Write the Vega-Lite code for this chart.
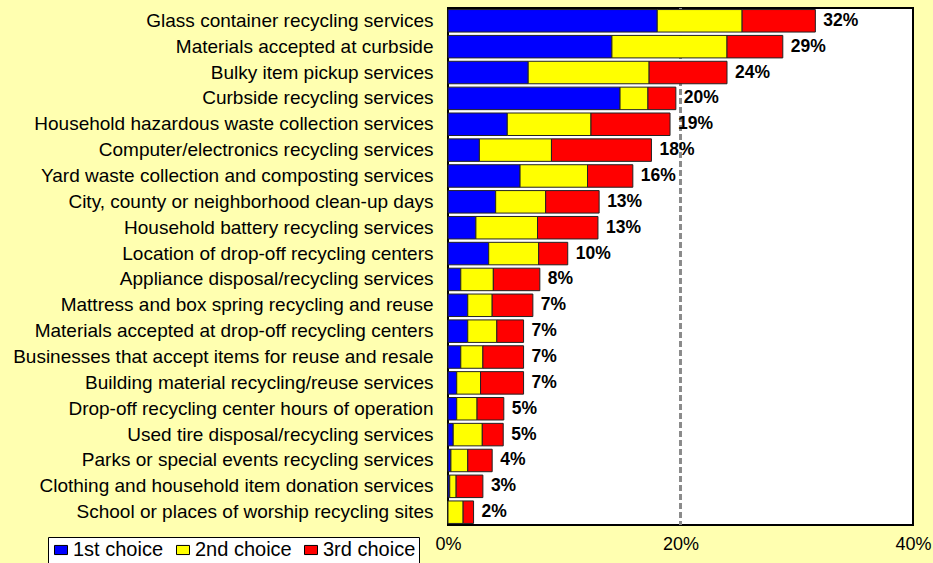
{
  "$schema": "https://vega.github.io/schema/vega-lite/v6.json",
  "width": 465,
  "height": 517,
  "autosize": {"type": "none"},
  "padding": {"left": 448, "top": 8, "right": 20, "bottom": 38},
  "background": "#FFFFB0",
  "config": {
    "view": {"fill": "white", "stroke": "black", "strokeWidth": 2},
    "font": "Liberation Sans"
  },
  "data": {
    "values": [
      {"item": "Glass container recycling services", "choice": "1st choice", "value": 0.180, "total": 0.32},
      {"item": "Glass container recycling services", "choice": "2nd choice", "value": 0.073, "total": 0.32},
      {"item": "Glass container recycling services", "choice": "3rd choice", "value": 0.063, "total": 0.32},
      {"item": "Materials accepted at curbside", "choice": "1st choice", "value": 0.141, "total": 0.29},
      {"item": "Materials accepted at curbside", "choice": "2nd choice", "value": 0.099, "total": 0.29},
      {"item": "Materials accepted at curbside", "choice": "3rd choice", "value": 0.048, "total": 0.29},
      {"item": "Bulky item pickup services", "choice": "1st choice", "value": 0.069, "total": 0.24},
      {"item": "Bulky item pickup services", "choice": "2nd choice", "value": 0.104, "total": 0.24},
      {"item": "Bulky item pickup services", "choice": "3rd choice", "value": 0.067, "total": 0.24},
      {"item": "Curbside recycling services", "choice": "1st choice", "value": 0.148, "total": 0.20},
      {"item": "Curbside recycling services", "choice": "2nd choice", "value": 0.024, "total": 0.20},
      {"item": "Curbside recycling services", "choice": "3rd choice", "value": 0.024, "total": 0.20},
      {"item": "Household hazardous waste collection services", "choice": "1st choice", "value": 0.051, "total": 0.19},
      {"item": "Household hazardous waste collection services", "choice": "2nd choice", "value": 0.072, "total": 0.19},
      {"item": "Household hazardous waste collection services", "choice": "3rd choice", "value": 0.068, "total": 0.19},
      {"item": "Computer/electronics recycling services", "choice": "1st choice", "value": 0.027, "total": 0.18},
      {"item": "Computer/electronics recycling services", "choice": "2nd choice", "value": 0.062, "total": 0.18},
      {"item": "Computer/electronics recycling services", "choice": "3rd choice", "value": 0.086, "total": 0.18},
      {"item": "Yard waste collection and composting services", "choice": "1st choice", "value": 0.062, "total": 0.16},
      {"item": "Yard waste collection and composting services", "choice": "2nd choice", "value": 0.058, "total": 0.16},
      {"item": "Yard waste collection and composting services", "choice": "3rd choice", "value": 0.039, "total": 0.16},
      {"item": "City, county or neighborhood clean-up days", "choice": "1st choice", "value": 0.041, "total": 0.13},
      {"item": "City, county or neighborhood clean-up days", "choice": "2nd choice", "value": 0.043, "total": 0.13},
      {"item": "City, county or neighborhood clean-up days", "choice": "3rd choice", "value": 0.046, "total": 0.13},
      {"item": "Household battery recycling services", "choice": "1st choice", "value": 0.024, "total": 0.13},
      {"item": "Household battery recycling services", "choice": "2nd choice", "value": 0.053, "total": 0.13},
      {"item": "Household battery recycling services", "choice": "3rd choice", "value": 0.052, "total": 0.13},
      {"item": "Location of drop-off recycling centers", "choice": "1st choice", "value": 0.035, "total": 0.10},
      {"item": "Location of drop-off recycling centers", "choice": "2nd choice", "value": 0.043, "total": 0.10},
      {"item": "Location of drop-off recycling centers", "choice": "3rd choice", "value": 0.025, "total": 0.10},
      {"item": "Appliance disposal/recycling services", "choice": "1st choice", "value": 0.011, "total": 0.08},
      {"item": "Appliance disposal/recycling services", "choice": "2nd choice", "value": 0.028, "total": 0.08},
      {"item": "Appliance disposal/recycling services", "choice": "3rd choice", "value": 0.040, "total": 0.08},
      {"item": "Mattress and box spring recycling and reuse", "choice": "1st choice", "value": 0.017, "total": 0.07},
      {"item": "Mattress and box spring recycling and reuse", "choice": "2nd choice", "value": 0.021, "total": 0.07},
      {"item": "Mattress and box spring recycling and reuse", "choice": "3rd choice", "value": 0.035, "total": 0.07},
      {"item": "Materials accepted at drop-off recycling centers", "choice": "1st choice", "value": 0.017, "total": 0.07},
      {"item": "Materials accepted at drop-off recycling centers", "choice": "2nd choice", "value": 0.025, "total": 0.07},
      {"item": "Materials accepted at drop-off recycling centers", "choice": "3rd choice", "value": 0.023, "total": 0.07},
      {"item": "Businesses that accept items for reuse and resale", "choice": "1st choice", "value": 0.011, "total": 0.07},
      {"item": "Businesses that accept items for reuse and resale", "choice": "2nd choice", "value": 0.019, "total": 0.07},
      {"item": "Businesses that accept items for reuse and resale", "choice": "3rd choice", "value": 0.035, "total": 0.07},
      {"item": "Building material recycling/reuse services", "choice": "1st choice", "value": 0.0075, "total": 0.07},
      {"item": "Building material recycling/reuse services", "choice": "2nd choice", "value": 0.0205, "total": 0.07},
      {"item": "Building material recycling/reuse services", "choice": "3rd choice", "value": 0.037, "total": 0.07},
      {"item": "Drop-off recycling center hours of operation", "choice": "1st choice", "value": 0.0075, "total": 0.05},
      {"item": "Drop-off recycling center hours of operation", "choice": "2nd choice", "value": 0.0175, "total": 0.05},
      {"item": "Drop-off recycling center hours of operation", "choice": "3rd choice", "value": 0.023, "total": 0.05},
      {"item": "Used tire disposal/recycling services", "choice": "1st choice", "value": 0.0045, "total": 0.05},
      {"item": "Used tire disposal/recycling services", "choice": "2nd choice", "value": 0.025, "total": 0.05},
      {"item": "Used tire disposal/recycling services", "choice": "3rd choice", "value": 0.018, "total": 0.05},
      {"item": "Parks or special events recycling services", "choice": "1st choice", "value": 0.0025, "total": 0.04},
      {"item": "Parks or special events recycling services", "choice": "2nd choice", "value": 0.0145, "total": 0.04},
      {"item": "Parks or special events recycling services", "choice": "3rd choice", "value": 0.021, "total": 0.04},
      {"item": "Clothing and household item donation services", "choice": "1st choice", "value": 0.0015, "total": 0.03},
      {"item": "Clothing and household item donation services", "choice": "2nd choice", "value": 0.0055, "total": 0.03},
      {"item": "Clothing and household item donation services", "choice": "3rd choice", "value": 0.023, "total": 0.03},
      {"item": "School or places of worship recycling sites", "choice": "1st choice", "value": 0.0, "total": 0.02},
      {"item": "School or places of worship recycling sites", "choice": "2nd choice", "value": 0.013, "total": 0.02},
      {"item": "School or places of worship recycling sites", "choice": "3rd choice", "value": 0.009, "total": 0.02}
    ]
  },
  "encoding": {
    "y": {
      "field": "item",
      "type": "nominal",
      "sort": null,
      "scale": {"paddingInner": 0.13, "paddingOuter": 0.06},
      "axis": {
        "title": null,
        "ticks": false,
        "domain": false,
        "labelFontSize": 19,
        "labelPadding": 15,
        "labelLimit": 600,
        "labelColor": "black",
        "labelFont": "Liberation Sans"
      }
    }
  },
  "layer": [
    {
      "mark": {"type": "rule", "color": "#8a8a8a", "strokeDash": [6, 3], "strokeWidth": 1.5},
      "encoding": {"x": {"datum": 0.2, "type": "quantitative"}, "y": null}
    },
    {
      "mark": {"type": "bar", "stroke": "#222222", "strokeWidth": 1},
      "encoding": {
        "x": {
          "field": "value",
          "type": "quantitative",
          "stack": "zero",
          "scale": {"domain": [0, 0.4], "nice": false},
          "axis": {
            "title": null,
            "values": [0, 0.2, 0.4],
            "format": ".0%",
            "ticks": false,
            "domain": false,
            "grid": false,
            "labelFlush": false,
            "labelFontSize": 18,
            "labelPadding": 10,
            "labelColor": "black",
            "labelFont": "Liberation Sans"
          }
        },
        "color": {
          "field": "choice",
          "type": "nominal",
          "sort": ["1st choice", "2nd choice", "3rd choice"],
          "scale": {"domain": ["1st choice", "2nd choice", "3rd choice"], "range": ["#0000FF", "#FFFF00", "#FF0000"]},
          "legend": {
            "title": null,
            "orient": "none",
            "legendX": -400,
            "legendY": 529,
            "direction": "horizontal",
            "fillColor": "white",
            "strokeColor": "black",
            "padding": 3,
            "symbolType": "M-1,-0.7L1,-0.7L1,0.7L-1,0.7Z",
            "symbolSize": 169,
            "symbolStrokeColor": "black",
            "symbolStrokeWidth": 1,
            "symbolOpacity": 1,
            "labelFontSize": 20,
            "labelColor": "black",
            "labelFont": "Liberation Sans",
            "labelOffset": 2,
            "columnPadding": 9
          }
        },
        "order": {"field": "choice", "sort": "ascending"}
      }
    },
    {
      "mark": {"type": "text", "align": "left", "baseline": "middle", "dx": 8, "fontSize": 17.5, "fontWeight": "bold", "color": "black", "font": "Liberation Sans"},
      "encoding": {
        "x": {"aggregate": "sum", "field": "value", "type": "quantitative"},
        "text": {"aggregate": "max", "field": "total", "type": "quantitative", "format": ".0%"}
      }
    }
  ]
}
